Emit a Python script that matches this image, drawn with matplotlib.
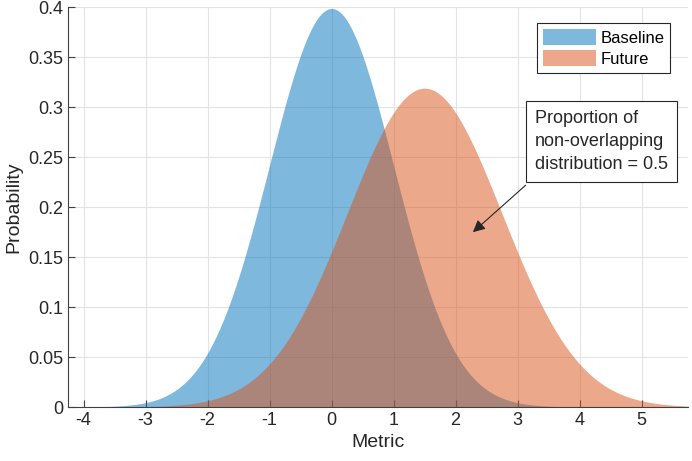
import numpy as np
from matplotlib import pyplot as plt
from matplotlib.ticker import FormatStrFormatter

# distribution parameters
names = ['Baseline', 'Future']
means = [0.0, 1.5]
sigmas = [1.0, 1.25]
colors = ['#0072bd', '#d95319']
x_range = [-4.25, 5.75]
x_ticks = [-4, -3, -2, -1, 0, 1, 2, 3, 4, 5]
y_ticks = [0, 0.05, 0.1, 0.15, 0.2, 0.25, 0.3, 0.35, 0.4]
note = 'Proportion of\nnon-overlapping\ndistribution = 0.5'
note_pos = (3.28, 0.297)
arrow_tail = (3.13, 0.222)
arrow_head = (2.28, 0.175)


def normal_pdf(x, mu, sd):
    return np.exp(-0.5 * ((x - mu) / sd) ** 2) / (sd * np.sqrt(2 * np.pi))


def main():
    plt.rcParams['font.family'] = ['Liberation Sans', 'DejaVu Sans']
    plt.rcParams['axes.unicode_minus'] = False
    fig = plt.figure(figsize=(6.92, 4.61), dpi=100)
    ax = fig.add_axes([0.0983, 0.117, 0.896, 0.867])

    xs = np.linspace(x_range[0], x_range[1], 600)
    for name, mu, sd, c in zip(names, means, sigmas, colors):
        ax.fill_between(xs, 0, normal_pdf(xs, mu, sd), color=c, alpha=0.5,
                        linewidth=0, label=name)

    ax.set_xlim(x_range)
    ax.set_ylim(0, 0.4)
    ax.set_xticks(x_ticks)
    ax.set_yticks(y_ticks)
    ax.yaxis.set_major_formatter(FormatStrFormatter('%g'))
    ax.grid(True, color='#e3e3e3', linewidth=0.8)
    ax.set_axisbelow(True)
    for side in ['top', 'right']:
        ax.spines[side].set_visible(False)
    for side in ['left', 'bottom']:
        ax.spines[side].set_color('#404040')
        ax.spines[side].set_linewidth(0.8)
    ax.tick_params(direction='in', length=5, width=0.8, colors='#404040',
                   labelcolor='#262626', labelsize=13)
    ax.set_xlabel('Metric', fontsize=14, color='#262626')
    ax.set_ylabel('Probability', fontsize=14, color='#262626')

    leg = ax.legend(loc='upper right', bbox_to_anchor=(0.971, 0.96),
                    borderaxespad=0, fancybox=False, edgecolor='#262626',
                    framealpha=1, fontsize=12, handlelength=3.2,
                    handleheight=1.1, handletextpad=0.25, borderpad=0.35,
                    labelspacing=0.25)
    leg.get_frame().set_linewidth(0.8)

    ax.text(note_pos[0], note_pos[1], note, fontsize=13, color='#262626',
            ha='left', va='top', linespacing=1.45,
            bbox=dict(boxstyle='square,pad=0.5', facecolor='white',
                      edgecolor='#262626', linewidth=0.8))
    ax.annotate('', xy=arrow_head, xytext=arrow_tail,
                arrowprops=dict(arrowstyle='-|>', color='#262626', lw=0.8,
                                mutation_scale=18, shrinkA=0, shrinkB=0))

    fig.savefig('out.png')


if __name__ == '__main__':
    main()
